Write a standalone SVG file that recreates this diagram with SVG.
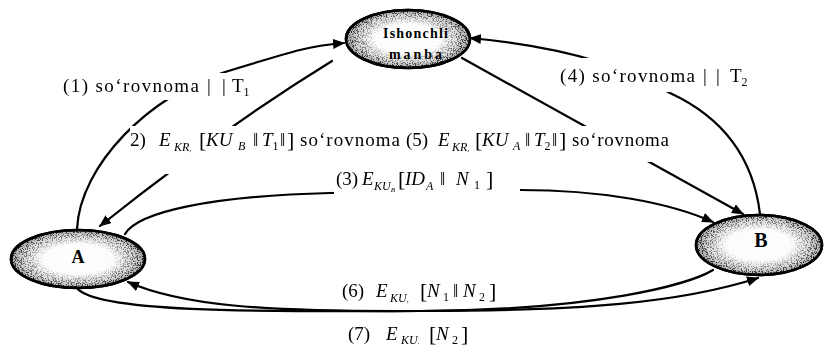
<svg xmlns="http://www.w3.org/2000/svg" width="824" height="346" viewBox="0 0 824 346">
<style>
.t{font-family:"Liberation Serif","Times New Roman",serif;font-size:19px;fill:#000}
.i{font-style:italic}
.s{font-size:12px}
.br{font-size:22px}
.nt{font-family:"Liberation Serif","Times New Roman",serif;font-weight:bold;fill:#000}
.e{fill:none;stroke:#000;stroke-width:2.2;stroke-linecap:round}
.bg{fill:#fff}
.node{fill:url(#ng);stroke:#000;stroke-width:2.5}
.spk{fill:url(#ring);filter:url(#speck)}
#labels{opacity:0.995}
</style>
<defs>
<radialGradient id="ng" cx="50%" cy="50%" r="50%">
<stop offset="0" stop-color="#fff"/>
<stop offset="0.55" stop-color="#fcfcfc"/>
<stop offset="0.82" stop-color="#d6d6d6"/>
<stop offset="1" stop-color="#a0a0a0"/>
</radialGradient>
<radialGradient id="ring" cx="50%" cy="50%" r="50%">
<stop offset="0.5" stop-color="#000" stop-opacity="0"/>
<stop offset="0.85" stop-color="#000" stop-opacity="0.55"/>
<stop offset="1" stop-color="#000" stop-opacity="0.85"/>
</radialGradient>
<filter id="speck" x="0" y="0" width="100%" height="100%">
<feTurbulence type="fractalNoise" baseFrequency="0.8" numOctaves="2" seed="4" result="n"/>
<feColorMatrix in="n" type="matrix" values="0 0 0 0 0  0 0 0 0 0  0 0 0 0 0  12 0 0 0 -6.2" result="d"/>
<feComposite in="d" in2="SourceGraphic" operator="in"/>
</filter>
<marker id="ah" viewBox="0 0 12 10" refX="11" refY="5" markerWidth="12" markerHeight="10" markerUnits="userSpaceOnUse" orient="auto">
<path d="M0,0 L12,5 L0,10 Z" fill="#000"/>
</marker>
</defs>
<rect width="824" height="346" fill="#fff"/>

<g id="node-source">
<ellipse class="node" cx="408" cy="39" rx="62" ry="29"/>
<ellipse class="spk" cx="408" cy="39" rx="62" ry="29"/>
<ellipse cx="408" cy="39" rx="62" ry="29" fill="none" stroke="#000" stroke-width="2.5"/>
<text class="nt" x="383" y="38" font-size="14" textLength="65">Ishonchli</text>
<text class="nt" x="389" y="59" font-size="14" textLength="53">manba</text>
</g>

<g id="node-A">
<ellipse class="node" cx="78" cy="259" rx="67" ry="29"/>
<ellipse class="spk" cx="78" cy="259" rx="67" ry="29"/>
<ellipse cx="78" cy="259" rx="67" ry="29" fill="none" stroke="#000" stroke-width="2.5"/>
<text class="nt" x="78" y="263" font-size="18" text-anchor="middle">A</text>
</g>

<g id="node-B">
<ellipse class="node" cx="759" cy="245" rx="63" ry="30"/>
<ellipse class="spk" cx="759" cy="245" rx="63" ry="30"/>
<ellipse cx="759" cy="245" rx="63" ry="30" fill="none" stroke="#000" stroke-width="2.5"/>
<text class="nt" x="761" y="247" font-size="20" text-anchor="middle">B</text>
</g>

<g id="connectors">
<path class="e" d="M77,229 C80,165 150,95 225,72 S310,46 344,43" marker-end="url(#ah)"/>
<path class="e" d="M332,61 Q220,130 100,226" marker-end="url(#ah)"/>
<path class="e" stroke-width="2.4" d="M125,234 C138,212 210,196 330,193 C420,191 440,190 520,190 C600,190 668,202 713,222" marker-end="url(#ah)"/>
<path class="e" d="M760,214 Q750,130 670,93 Q600,50 470,38" marker-end="url(#ah)"/>
<path class="e" d="M462,58 L743,214" marker-end="url(#ah)"/>
<path class="e" d="M713,270 C690,284 600,310 420,311 C260,312 180,305 128,282" marker-end="url(#ah)"/>
<path class="e" d="M77,288 C95,312 250,312 420,311 C580,311 680,303 758,278" marker-end="url(#ah)"/>
</g>

<g id="labels">
<rect class="bg" x="58" y="73" width="204" height="27"/>
<text class="t" x="63" y="92" textLength="136">(1) so‘rovnoma</text>
<text class="t" x="207" y="92">|<tspan x="222">|</tspan><tspan x="232">T</tspan><tspan class="s" dy="4">1</tspan></text>

<rect class="bg" x="555" y="58" width="202" height="34"/>
<text class="t" x="560" y="82" textLength="135">(4) so‘rovnoma</text>
<text class="t" x="703" y="82">|<tspan x="716">|</tspan><tspan x="730">T</tspan><tspan class="s" dy="4">2</tspan></text>

<rect class="bg" x="130" y="126" width="522" height="36"/>
<rect class="bg" x="130" y="126" width="110" height="48"/>
<text class="t" x="130" y="146">2)</text>
<text class="t i" x="159" y="146">E</text>
<text class="t i s" x="174" y="151">KR<tspan font-size="8">,</tspan></text>
<text class="t br" x="199" y="147">[</text>
<text class="t i" x="206" y="146">KU</text>
<text class="t i s" x="238" y="150">B</text>
<text class="t" x="253" y="146">‖</text>
<text class="t i" x="262" y="146">T<tspan class="s" font-style="normal" dy="4">1</tspan></text>
<text class="t" x="280" y="146">‖</text>
<text class="t br" x="287" y="147">]</text>
<text class="t" x="300" y="146" textLength="100">so‘rovnoma</text>
<text class="t" x="406" y="146">(5)</text>
<text class="t i" x="438" y="146">E</text>
<text class="t i s" x="452" y="151">KR<tspan font-size="8">,</tspan></text>
<text class="t br" x="475" y="147">[</text>
<text class="t i" x="482" y="146">KU</text>
<text class="t i s" x="513" y="150">A</text>
<text class="t" x="525" y="146">‖</text>
<text class="t i" x="534" y="146">T<tspan class="s" font-style="normal" dy="4">2</tspan></text>
<text class="t" x="552" y="146">‖</text>
<text class="t br" x="559" y="147">]</text>
<text class="t" x="572" y="146" textLength="97">so‘rovnoma</text>

<rect class="bg" x="334" y="168" width="186" height="28"/>
<text class="t" x="336" y="185">(3)</text>
<text class="t i" x="362" y="185">E</text>
<text class="t i s" x="374" y="190">KU<tspan font-size="7" dy="2">B</tspan></text>
<text class="t br" x="398" y="186">[</text>
<text class="t i" x="405" y="185">ID</text>
<text class="t i s" x="426" y="190">A</text>
<text class="t" x="440" y="185">‖</text>
<text class="t i" x="456" y="185" font-size="22">N</text>
<text class="t s" x="474" y="189">1</text>
<text class="t br" x="486" y="186">]</text>

<text class="t" x="342" y="297">(6)</text>
<text class="t i" x="376" y="297">E</text>
<text class="t i s" x="390" y="302">KU<tspan font-size="8">,</tspan></text>
<text class="t br" x="420" y="298">[</text>
<text class="t i" x="427" y="297">N</text>
<text class="t s" x="443" y="301">1</text>
<text class="t" x="453" y="297">‖</text>
<text class="t i" x="463" y="297">N</text>
<text class="t s" x="479" y="301">2</text>
<text class="t br" x="489" y="298">]</text>

<text class="t" x="348" y="340">(7)</text>
<text class="t i" x="386" y="340">E</text>
<text class="t i s" x="401" y="344">KU<tspan font-size="8">.</tspan></text>
<text class="t br" x="429" y="341">[</text>
<text class="t i" x="436" y="340">N</text>
<text class="t s" x="452" y="344">2</text>
<text class="t br" x="461" y="341">]</text>
</g>
</svg>
